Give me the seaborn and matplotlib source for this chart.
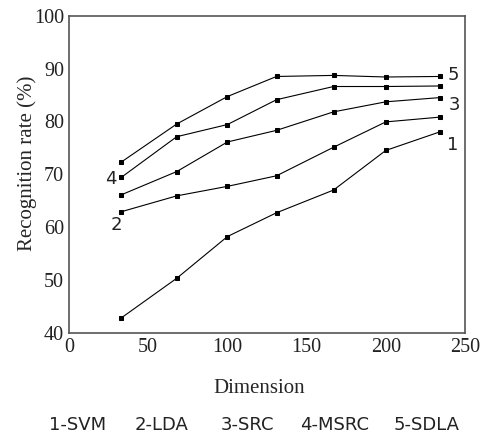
import seaborn as sns
import numpy as np
import pandas as pd
import matplotlib.pyplot as plt

# data
dims = [33, 68, 100, 131, 167, 200, 234]
svm = [42.8, 50.3, 58.2, 62.7, 67.0, 74.5, 78.0]
lda = [62.9, 65.9, 67.7, 69.7, 75.1, 79.9, 80.8]
src = [66.1, 70.5, 76.1, 78.3, 81.8, 83.7, 84.5]
msrc = [69.4, 77.1, 79.4, 84.1, 86.6, 86.6, 86.7]
sdla = [72.3, 79.5, 84.7, 88.5, 88.7, 88.4, 88.5]
methods = ['1', '2', '3', '4', '5']
legend_items = ['1-SVM', '2-LDA', '3-SRC', '4-MSRC', '5-SDLA']

df = pd.DataFrame({
    'Dimension': dims * 5,
    'Rate': svm + lda + src + msrc + sdla,
    'Method': np.repeat(methods, len(dims)),
})

sns.set_style('white')
fig = plt.figure(figsize=(4.83, 4.34), dpi=100)
ax = fig.add_axes([0.1429, 0.2334, 0.8198, 0.7304])

# one black line per method, small square markers
for m in methods:
    sns.lineplot(data=df[df['Method'] == m], x='Dimension', y='Rate', ax=ax,
                 color='black', linewidth=0.8, marker='s', markersize=3.5,
                 markeredgecolor='black')

# series numbers next to the lines
serif = 'Liberation Serif'
num_font = dict(fontsize=13, family='DejaVu Sans', va='center', color='#222222')
ax.text(239.3, 88.7, '5', ha='left', **num_font)
ax.text(239.5, 83.1, '3', ha='left', **num_font)
ax.text(238.4, 75.5, '1', ha='left', **num_font)
ax.text(26.5, 69.0, '4', ha='center', **num_font)
ax.text(29.7, 60.3, '2', ha='center', **num_font)

ax.set_xlim(0, 250)
ax.set_ylim(40.4, 100)
ax.set_xticks([0, 50, 100, 150, 200, 250])
ax.set_yticks([40, 50, 60, 70, 80, 90, 100])
ax.tick_params(direction='in', length=4, width=0.8, colors='#444444',
               labelsize=14.5, labelcolor='#222222')
for lab in ax.get_xticklabels() + ax.get_yticklabels():
    lab.set_family(serif)
for s in ax.spines.values():
    s.set_color('#555555')
    s.set_linewidth(1.2)

ax.set_xlabel('')
ax.set_ylabel('Recognition rate (%)', family=serif, fontsize=15)
ax.yaxis.set_label_coords(-0.081, 0.535)

fig.text(0.536, 0.104, 'Dimension', family=serif, fontsize=15, ha='center', va='center')
legend_x = [77.5, 162, 247.5, 335, 427]
for lx, item in zip(legend_x, legend_items):
    fig.text(lx / 483, 1 - 424.5 / 434, item, family='DejaVu Sans', fontsize=13,
             ha='center', va='center', color='#222222')

fig.savefig('out.png', dpi=100)
